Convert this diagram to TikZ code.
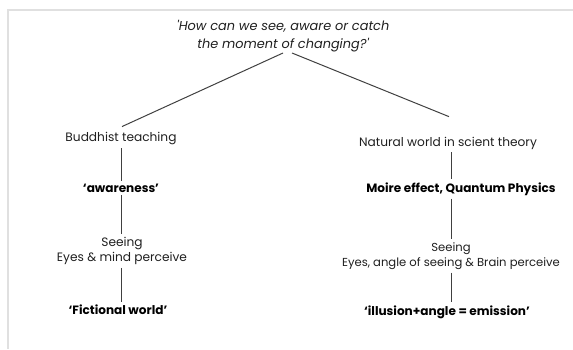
\documentclass[tikz,border=0pt]{standalone}
\usepackage{fontspec}
\setmainfont{Poppins}
\begin{document}
\begin{tikzpicture}[x=0.3mm, y=-0.3mm,
  txt/.style={text=black!88, align=center, inner sep=2.5pt, font=\fontsize{10.4}{12.8}\selectfont},
  key/.style={txt, text=black, font=\fontsize{10.3}{12.8}\selectfont\bfseries},
  link/.style={line width=0.3mm, black!75}]
\useasboundingbox (0,0) rectangle (573,349);

% frame
\draw[line width=0.5mm, black!12] (8,349) -- (8,10) -- (573,10);

% question
\node[txt, font=\fontsize{11}{15.3}\selectfont\itshape] (q) at (283,36)
  {\textquotesingle How can we see, aware or catch\\the moment of changing?\textquotesingle};

% left side
\node[txt] (bt) at (121,139) {Buddhist teaching};
\node[key] (aw) at (121,188) {‘awareness’};
\node[txt] (ls) at (122,251) {Seeing\\Eyes \& mind perceive};
\node[key] (fw) at (118,310) {‘Fictional world’};

% right side
\node[txt] (nw) at (448,143) {Natural world in scient theory};
\node[key] (mq) at (461,189) {Moire effect, Quantum Physics};
\node[txt, font=\fontsize{9.9}{12.8}\selectfont] (rs) at (451,256)
  {Seeing\\Eyes, angle of seeing \& Brain perceive};
\node[key] (ie) at (447,312) {‘illusion+angle = emission’};

\draw[link] ([shift={(0,-2)}]q.south) -- ([shift={(1,-3)}]bt.north);
\draw[link] ([shift={(9,-2)}]q.south) -- ([shift={(1,-17)}]nw.north);

\draw[link] (bt.south) -- (bt.south |- aw.north);
\draw[link] (aw.south) -- (aw.south |- ls.north);
\draw[link] (ls.south -| aw.south) -- (aw.south |- fw.north);

\draw[link] (rs.north |- nw.south) -- (rs.north |- mq.north);
\draw[link] (rs.north |- mq.south) -- (rs.north);
\draw[link] (rs.south) -- (rs.south |- ie.north);
\end{tikzpicture}
\end{document}
